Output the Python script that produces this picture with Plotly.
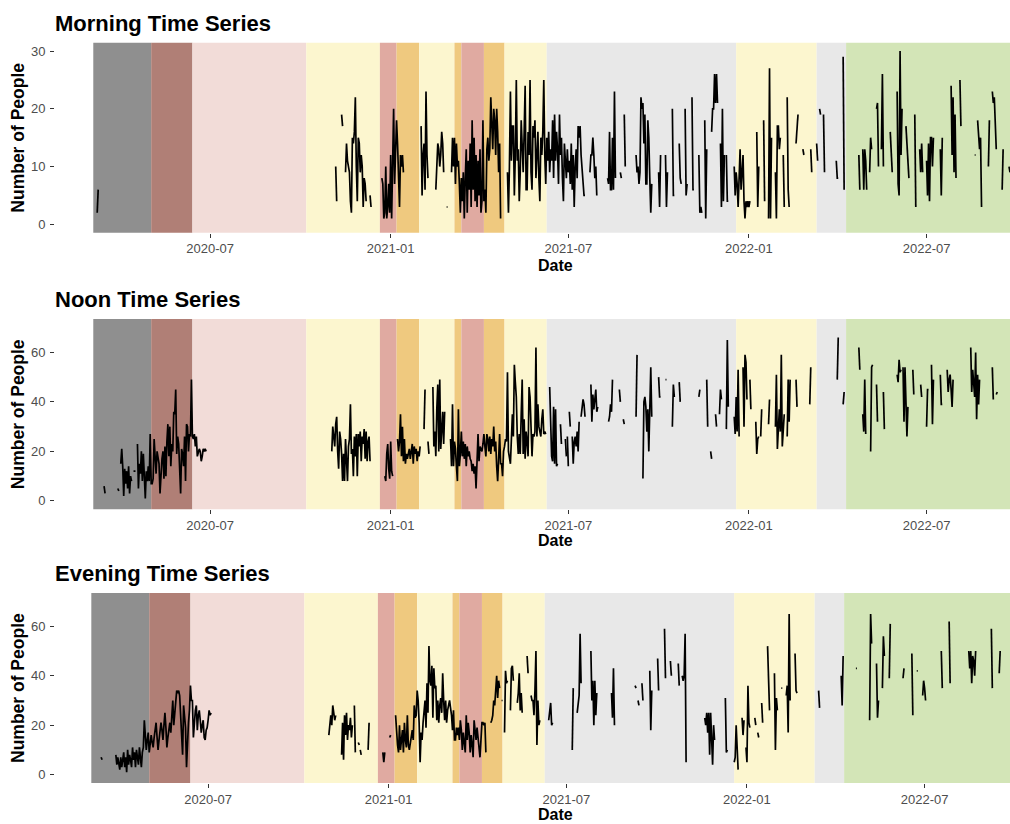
import pandas as pd
import plotly.graph_objects as go

# Day numbers are counted from this date (negative = 2020)
DAY_ZERO = pd.Timestamp("2021-01-01")

# Restriction periods shaded behind every panel
band_starts = ["2020-03-04", "2020-05-02", "2020-06-13", "2020-10-07", "2020-12-21",
               "2021-01-07", "2021-01-30", "2021-03-07", "2021-03-14", "2021-04-06",
               "2021-04-27", "2021-06-09", "2021-12-19", "2022-03-11", "2022-04-10"]
band_ends = band_starts[1:] + ["2022-12-31"]
band_colors = ["#8F8F8F", "#B07F76", "#F2DCD8", "#FCF6CF", "#E0AAA1",
               "#EFC97F", "#FCF6CF", "#EFC97F", "#E0AAA1", "#EFC97F",
               "#FCF6CF", "#E8E8E8", "#FCF6CF", "#E8E8E8", "#D3E5B7"]

tick_dates = ["2020-07-01", "2021-01-01", "2021-07-01", "2022-01-01", "2022-07-01"]
tick_labels = ["2020-07", "2021-01", "2021-07", "2022-01", "2022-07"]

# Daily counts: (first day number, consecutive daily values); days between runs are missing
morning_runs = [
    (-299, [2, 6]),
    (-56, [10, 4]),
    (-50, [19, 17]),
    (-46, [9, 14, 11, 10, 9, 4, 2, 15, 14, 16, 22, 10, 4, 15, 14, 9, 12, 10, 3, 8, 7, 4]),
    (-21, [5, 3]),
    (-9, [8, 7, 1, 2, 10, 1, 3, 7, 2, 12, 1, 9, 20, 7, 13, 18, 14, 8, 3, 12, 10, 12, 9]),
    (31, [17, 5, 12, 14, 6, 23, 12, 8]),
    (46, [6, 9, 14, 13, 10, 12, 16, 14, 9]),
    (57, [3, 3]),
    (62, [9, 15, 10, 15, 7, 14, 10, 11, 7, 2, 8, 4, 9, 1, 8, 13, 2, 11, 6, 14,
          3, 18, 6, 15, 4, 12, 3, 11, 5, 13, 2, 4, 18, 4, 6, 2, 13, 15, 11, 13,
          22, 15, 13, 20, 18, 12, 20, 16, 9, 14, 1]),
    (119, [9, 2, 10, 23, 11, 17, 17, 5, 12, 25, 11, 13, 4, 9, 18, 13, 9, 16, 24, 6,
           6, 16, 12, 25, 9, 6, 17, 15, 18, 8, 14, 16, 8, 4, 15, 12, 16, 25, 12, 7,
           15, 11, 16, 9, 13, 11, 18, 8, 19, 11, 16, 13, 7,
           19, 12, 15, 8, 4, 14, 11, 8, 13, 9, 11, 7, 14, 6, 12, 3, 10, 13, 8, 17,
           15, 17, 12, 9, 6, 5, 5]),
    (203, [9, 12, 12, 15, 12, 8, 10, 5]),
    (221, [8, 7, 16, 6, 6, 15, 6, 23, 8]),
    (234, [9, 8]),
    (238, [19, 10]),
    (250, [12, 9, 10, 7, 9, 22, 20, 21, 14, 19, 7, 7, 18, 15, 8, 2, 7]),
    (273, [9, 3, 12]),
    (280, [12, 3, 9]),
    (287, [20, 5, 5]),
    (294, [14, 8, 7]),
    (300, [20, 5, 7]),
    (307, [22, 6, 6]),
    (314, [12, 2, 3, 2]),
    (320, [18, 1, 13]),
    (327, [16, 20, 20, 26, 21, 26, 21]),
    (336, [14, 3, 20, 4, 12]),
    (342, [12, 4, 4]),
    (350, [10, 5, 9, 7, 3, 8, 13, 6, 9, 12, 4, 1, 4, 3, 4, 3, 4]),
    (373, [16, 3, 10]),
    (380, [18, 4]),
    (385, [1, 27, 1, 15]),
    (392, [9, 1, 17, 17, 13, 15]),
    (400, [12, 3]),
    (404, [22, 6, 3]),
    (413, [14, 17, 19]),
    (420, [13, 12]),
    (428, [13, 9]),
    (434, [14, 11]),
    (437, [20, 19]),
    (441, [19, 9]),
    (454, [11, 8, 8]),
    (461, [29, 6]),
    (477, [12, 6]),
    (481, [13, 6, 13, 11, 6]),
    (488, [9, 15, 13]),
    (495, [20, 21, 10]),
    (500, [13, 26, 10]),
    (509, [16, 11, 9]),
    (516, [23, 7, 5, 30, 12, 20]),
    (525, [17, 14, 10, 8]),
    (534, [19, 3]),
    (539, [13, 9, 14, 9]),
    (546, [11, 5, 14, 4, 15, 15, 10, 15]),
    (560, [13, 5, 15]),
    (571, [24, 12, 22, 9, 19, 8]),
    (580, [25, 17]),
    (595, [12, 12]),
    (598, [18, 15, 13, 15, 3]),
    (609, [10, 18]),
    (613, [23, 21, 22, 17, 13]),
    (623, [6, 13]),
    (630, [10, 9]),
]

noon_runs = [
    (-292, [6, 3]),
    (-278, [5, 4]),
    (-275, [15, 21, 14, 2, 13, 7, 12, 5, 14, 3, 10, 8]),
    (-262, [12, 12, 12]),
    (-258, [23, 5, 15, 11, 20, 8, 19, 10, 1, 12, 8, 14, 8, 27, 7,
            7, 9, 25, 14, 11, 20, 18, 15, 3, 12, 17, 20, 9, 22, 10, 24, 31, 18, 30, 14,
            23, 20, 36, 35, 45, 19, 26, 23, 8, 3, 21, 19, 14, 26, 8, 31, 30, 20, 27, 26,
            49, 26, 25, 27, 22, 26, 18, 20, 21, 20, 16, 18, 21, 20, 21, 20]),
    (-60, [20, 30, 26, 22, 31, 34, 20, 13, 28, 25, 19, 8, 19, 8, 25, 14, 8, 22, 25, 39,
           19, 21, 10, 26, 18, 27, 10, 27, 22, 28, 16, 26, 23, 29, 17, 28, 16, 24, 26, 16]),
    (-6, [10, 8, 19, 23, 13, 9, 24, 12, 10]),
    (7, [25, 20, 24, 35, 18, 30, 16, 25, 15, 19, 17, 19, 21, 17, 20, 23, 15, 22, 19, 21,
         16, 20, 18, 22]),
    (34, [29, 45]),
    (38, [24, 19]),
    (43, [46, 22, 28, 18, 37, 47, 20, 49, 21, 28, 36, 23, 36]),
    (61, [25, 14, 39, 14, 24, 21, 14, 8, 37, 14, 19, 28, 18, 24, 17, 23, 14, 22, 18, 20,
          17, 16, 12, 15, 11, 14, 5, 22, 27, 16, 22, 21, 20, 23, 27, 22, 18, 27, 25, 20,
          26, 19, 25, 22, 30, 20, 24, 14, 8, 17,
          27, 15, 15, 10, 20, 22, 25, 24, 52, 20, 16, 15, 25, 35, 26, 55, 48, 42, 26, 19,
          27, 19, 35, 49, 19, 33, 17, 28, 24, 18, 46, 42, 30, 18, 27, 26, 28, 62, 26, 39,
          30, 27, 26, 33, 37, 27, 28, 27]),
    (162, [46, 28, 18, 16, 38, 15, 37, 14, 15]),
    (173, [31, 23]),
    (178, [25, 18]),
    (180, [26, 14]),
    (182, [36, 30]),
    (185, [26, 15, 24, 26, 22, 28, 20, 32]),
    (194, [34, 38, 41, 39, 34]),
    (204, [47, 32, 43, 37, 41, 45, 36, 38]),
    (222, [32, 34, 39, 36, 49]),
    (233, [45, 40]),
    (237, [33, 31]),
    (250, [34, 59]),
    (257, [9, 40, 42, 38, 28, 37, 20, 37, 54, 34]),
    (273, [50, 42, 42]),
    (280, [49, 49]),
    (287, [30, 47, 42]),
    (294, [48, 40]),
    (314, [42, 45]),
    (322, [49, 30]),
    (326, [20, 17]),
    (331, [35, 30]),
    (335, [35, 45, 41]),
    (342, [29, 65, 38]),
    (350, [34, 27, 42, 28, 53, 26]),
    (359, [54, 30, 59, 56, 41]),
    (366, [49, 37]),
    (372, [32, 19, 25, 26]),
    (377, [26, 37]),
    (385, [31, 41]),
    (392, [30, 51, 21, 31, 37, 28, 59, 22, 27, 35]),
    (404, [26, 49, 32, 49]),
    (413, [49, 38]),
    (427, [39, 54]),
    (455, [49, 66]),
    (461, [39, 44]),
    (477, [62, 53]),
    (481, [35, 28, 49, 27]),
    (489, [20, 54, 55]),
    (495, [47, 32]),
    (502, [44, 29]),
    (516, [51, 48, 57, 52, 53]),
    (522, [54, 32, 54, 42, 26, 38]),
    (532, [53, 43]),
    (540, [47, 42]),
    (546, [30, 45, 45]),
    (551, [55, 31, 49]),
    (560, [51, 39, 39]),
    (567, [53, 44, 49, 51, 45, 38, 49]),
    (591, [62, 44, 53, 45, 42, 60, 33, 51, 39, 49]),
    (613, [54, 41]),
    (617, [43, 44]),
]

evening_runs = [
    (-293, [7, 6]),
    (-278, [8, 4, 7, 3, 2, 7, 3, 6, 9, 3, 7, 1, 10, 4, 8, 6, 3, 11, 6, 9,
            3, 10, 7, 4, 11, 7, 3, 9,
            11, 22, 16, 10, 14, 17, 9, 12, 16, 13, 11, 15, 18, 21, 15, 10, 14, 17, 21, 18,
            14, 20, 25, 19, 11, 15, 18, 21, 17, 26, 30, 20, 26, 31, 34, 33, 34, 32, 25, 20,
            8, 28, 21, 19, 3, 14, 21, 26, 36, 30, 30, 15, 22, 26, 28, 18, 24, 26, 22, 17,
            20, 22, 15, 14, 18, 19, 22, 26, 24, 25]),
    (-61, [16, 21, 24, 20, 28, 25, 22, 24]),
    (-48, [8, 21, 6, 24, 16, 25, 14, 20, 18, 23, 15, 20]),
    (-35, [28, 9]),
    (-31, [13, 12]),
    (-29, [10, 8]),
    (-21, [10, 21]),
    (-6, [9, 5, 9]),
    (1, [15, 16]),
    (7, [24, 15, 12, 9, 20, 10, 16, 18, 9, 21, 14, 11, 24, 12, 10, 13, 16, 18, 14, 28,
         23, 24, 34, 30, 21, 5, 17, 14, 21, 26, 30, 19, 37, 25, 52, 38, 36, 44, 23, 43,
         35, 36, 22, 30, 21, 28, 31, 25, 41, 30, 22, 30, 21, 26, 29, 30, 27, 24, 18, 26,
         14, 14, 19, 16, 19, 14, 22, 18, 10, 17, 13, 9, 24, 14, 21, 17, 9, 16, 12, 7,
         22, 17, 14, 19, 16, 11, 7, 15, 21, 21, 20, 21, 9]),
    (104, [21, 22, 24, 30, 28, 37, 40, 31, 38, 35]),
    (115, [30, 30]),
    (118, [17, 42, 37, 38]),
    (124, [26, 43, 44, 38]),
    (131, [29, 33, 41, 26, 33, 25]),
    (141, [48, 41]),
    (145, [32, 30, 30, 24, 34, 50, 12, 30, 20, 22]),
    (163, [22, 26, 29, 20, 21]),
    (187, [10, 35]),
    (192, [25, 28, 32, 57, 37]),
    (206, [50, 30, 38, 20, 38, 24, 33]),
    (227, [33, 23, 43, 20]),
    (251, [36, 35]),
    (254, [30, 28]),
    (258, [37, 30]),
    (266, [42, 18, 34]),
    (274, [47, 34]),
    (281, [59, 39]),
    (287, [46, 40]),
    (295, [45, 36]),
    (299, [40, 38, 40, 57, 5]),
    (322, [23, 20, 25, 17, 25, 8, 25, 9, 4, 20, 14]),
    (343, [31, 9, 10]),
    (352, [5, 7, 20, 6, 2]),
    (360, [23, 16, 22]),
    (364, [11, 5, 36, 21, 19]),
    (373, [23, 20]),
    (376, [17, 15]),
    (380, [29, 21]),
    (386, [52, 38, 26]),
    (393, [41, 10, 31, 26]),
    (400, [35, 35]),
    (405, [32, 36, 17, 65, 30]),
    (414, [49, 34, 33]),
    (438, [34, 27]),
    (461, [40, 28, 48]),
    (476, [43, 43]),
    (490, [22, 65, 53]),
    (497, [45, 23, 30]),
    (503, [35, 56, 48]),
    (510, [39, 61]),
    (524, [39, 43]),
    (533, [49, 24]),
    (538, [42, 42]),
    (544, [32, 38, 35, 30]),
    (563, [50, 35]),
    (571, [62, 37]),
    (591, [50, 43, 50, 37, 48, 46, 40, 50]),
    (614, [59, 35]),
    (622, [41, 50]),
]

panel_titles = ["Morning Time Series", "Noon Time Series", "Evening Time Series"]


def runs_to_xy(runs):
    """Flatten daily runs into x/y lists with a None break between runs."""
    xs, ys = [], []
    for first_day, values in runs:
        for i, v in enumerate(values):
            xs.append((DAY_ZERO + pd.Timedelta(days=first_day + i)).strftime("%Y-%m-%d"))
            ys.append(v)
        xs.append(None)
        ys.append(None)
    return xs, ys


W, H = 1010, 824
FONT = "Liberation Sans, Arial, Helvetica, sans-serif"

# panel geometry in pixels: (top, bottom) of plotting area, title row, x title row
panels = [
    dict(runs=morning_runs, top=42.7, bottom=232.7, title_y=23, date_y=265,
         yrange=[-1.45, 31.44], yticks=[0, 10, 20, 30],
         xrange=["2020-01-25", "2022-09-24"]),
    dict(runs=noon_runs, top=319, bottom=509.3, title_y=299, date_y=540,
         yrange=[-3.4, 73.5], yticks=[0, 20, 40, 60],
         xrange=["2020-01-25", "2022-09-24"]),
    dict(runs=evening_runs, top=593, bottom=783, title_y=573, date_y=814.5,
         yrange=[-3.4, 73.5], yticks=[0, 20, 40, 60],
         xrange=["2020-01-27", "2022-09-26"]),
]

x_left = 55 / W

fig = go.Figure()
shapes, annotations = [], []
layout_axes = {}

for k, (p, title) in enumerate(zip(panels, panel_titles), start=1):
    xa = "x" if k == 1 else f"x{k}"
    ya = "y" if k == 1 else f"y{k}"
    xs, ys = runs_to_xy(p["runs"])
    fig.add_trace(go.Scatter(
        x=xs, y=ys, mode="lines", xaxis=xa, yaxis=ya,
        line=dict(color="black", width=1.7), connectgaps=False,
        hoverinfo="skip", showlegend=False,
    ))

    for s, e, c in zip(band_starts, band_ends, band_colors):
        shapes.append(dict(type="rect", xref=xa, yref=f"{ya} domain",
                           x0=s, x1=e, y0=0, y1=1, fillcolor=c,
                           line=dict(width=0), layer="below"))

    dom = [1 - p["bottom"] / H, 1 - p["top"] / H]
    layout_axes[f"xaxis{'' if k == 1 else k}"] = dict(
        domain=[x_left, 1], anchor=ya, type="date", range=p["xrange"],
        tickvals=tick_dates, ticktext=tick_labels,
        showgrid=False, zeroline=False, showline=False,
        ticks="outside", ticklen=4, tickwidth=1, tickcolor="#333333",
        tickfont=dict(family=FONT, size=13, color="#4D4D4D"),
        automargin=False,
    )
    layout_axes[f"yaxis{'' if k == 1 else k}"] = dict(
        domain=dom, anchor=xa, range=p["yrange"], tickvals=p["yticks"],
        showgrid=False, zeroline=False, showline=False,
        ticks="outside", ticklen=4, tickwidth=1, tickcolor="#333333",
        tickfont=dict(family=FONT, size=13, color="#4D4D4D"),
        ticklabelstandoff=2, automargin=False,
    )

    annotations.append(dict(
        text=f"<b>{title}</b>", xref="paper", yref="paper",
        x=53 / W, y=1 - p["title_y"] / H, xanchor="left", yanchor="middle",
        showarrow=False, font=dict(family=FONT, size=22, color="black"),
    ))
    annotations.append(dict(
        text="<b>Number of People</b>", xref="paper", yref="paper",
        x=18 / W, y=1 - (p["top"] + p["bottom"]) / 2 / H,
        xanchor="center", yanchor="middle", textangle=-90,
        showarrow=False, font=dict(family=FONT, size=17.5, color="black"),
    ))
    annotations.append(dict(
        text="<b>Date</b>", xref="paper", yref="paper",
        x=555 / W, y=1 - p["date_y"] / H, xanchor="center", yanchor="middle",
        showarrow=False, borderpad=0,
        font=dict(family=FONT, size=16, color="black"),
    ))

fig.update_layout(
    width=W, height=H,
    margin=dict(l=0, r=0, t=0, b=0),
    paper_bgcolor="white", plot_bgcolor="white",
    shapes=shapes, annotations=annotations,
    showlegend=False,
    **layout_axes,
)

fig.write_html("out.html")
